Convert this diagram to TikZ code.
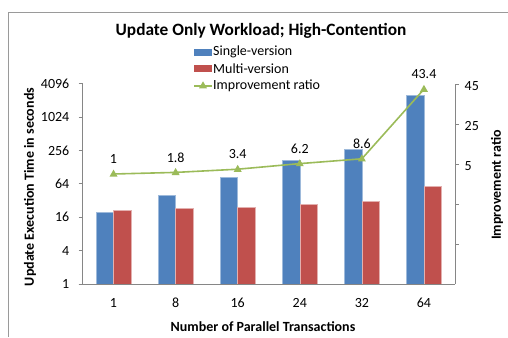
\documentclass[tikz,border=0pt]{standalone}
\usepackage{fontspec}
\setmainfont{Carlito}
\definecolor{barblue}{HTML}{4F81BD}
\definecolor{barred}{HTML}{C0504D}
\definecolor{linegreen}{HTML}{9BBB59}
\definecolor{axisgray}{HTML}{868686}
\definecolor{framegray}{HTML}{9A9A9A}
\begin{document}
\begin{tikzpicture}[x=1bp,y=-1bp,
  axisline/.style={draw=axisgray,line width=0.8bp},
  lbl/.style={inner sep=0pt,font=\fontsize{14bp}{16bp}\selectfont},
  axtitle/.style={inner sep=0pt,font=\bfseries\fontsize{14bp}{16bp}\selectfont},
  bluebar/.style={fill=barblue,draw=barblue!55!white,line width=0.5bp},
  redbar/.style={fill=barred,draw=barred!45!white,line width=0.5bp},
  ratioline/.style={draw=linegreen,line width=1.6bp},
  marker/.style={fill=linegreen}]
\useasboundingbox (0,0) rectangle (508,337);

% chart frame (top and left edges)
\draw[framegray,line width=1bp] (8.5,337) -- (8.5,12.5) -- (508,12.5);

% title
\node[inner sep=0pt,font=\bfseries\fontsize{17.3bp}{19bp}\selectfont] (title) at (261,31) {Update Only Workload; High-Contention};

% bars: log2 scale on the left axis, 1 at y=284, 4096 at y=83.5
\foreach \i/\b/\r in {1/19.6/21.3, 2/40.1/22.7, 3/82.3/24.4, 4/168/27.6, 5/270/31.3, 6/2470/56.6}{
  \pgfmathsetmacro\cx{82.5+62.08*(\i-0.5)}
  \pgfmathsetmacro\yb{284-16.71*ln(\b)/ln(2)}
  \pgfmathsetmacro\yr{284-16.71*ln(\r)/ln(2)}
  \path[bluebar] (\cx-17.5,284) rectangle (\cx,\yb);
  \path[redbar] (\cx,284) rectangle (\cx+17.5,\yr);
}

% axes
\draw[axisline] (78.5,284) -- (455,284);
\draw[axisline] (82.5,284) -- (82.5,83.5);
\draw[axisline] (455,284) -- (455,84);
\foreach \k/\v in {0/1,1/4,2/16,3/64,4/256,5/1024,6/4096}{
  \pgfmathsetmacro\ty{284-33.42*\k}
  \draw[axisline] (78.5,\ty) -- (82.5,\ty);
  \node[lbl,anchor=east] (yl\k) at (69.5,\ty) {\v};
}
\foreach \k in {1,...,5}{
  \pgfmathsetmacro\ty{284-40*\k}
  \draw[axisline] (455,\ty) -- (458.5,\ty);
}
\node[lbl,anchor=west] (r45) at (464.5,86) {45};
\node[lbl,anchor=west] (r25) at (464.5,126) {25};
\node[lbl,anchor=west] (r5) at (464.5,166) {5};

% category labels
\foreach \i/\t in {1/1,2/8,3/16,4/24,5/32,6/64}{
  \pgfmathsetmacro\cx{82.5+62.08*(\i-0.5)}
  \node[lbl] (cat\i) at (\cx,302.5) {\t};
}

% improvement ratio points
\foreach \i/\v in {1/1,2/1.8,3/3.4,4/6.2,5/8.6,6/43.4}{
  \pgfmathsetmacro\cx{82.5+62.08*(\i-0.5)}
  \pgfmathsetmacro\py{286-2*(\v+55)}
  \coordinate (p\i) at (\cx,\py);
  \node[lbl] (v\i) at (\cx,\py-15) {\v};
}
\draw[ratioline] (p1) -- (p2) -- (p3) -- (p4) -- (p5) -- (p6);
\foreach \i in {1,...,6}{
  \fill[marker] (p\i) ++(-4,2.6) -- ++(8,0) -- ++(-4,-7) -- cycle;
}

% axis titles
\node[axtitle,rotate=90] (ytitle) at (30,187) {Update Execution Time in seconds};
\node[axtitle,rotate=90] (y2title) at (497,185) {Improvement ratio};
\node[axtitle] (xtitle) at (263,327) {Number of Parallel Transactions};

% legend
\fill[barblue] (194,48.5) rectangle (212,55.7);
\node[lbl,anchor=west] (legS) at (213,52) {Single-version};
\fill[barred] (194,65) rectangle (212,72.3);
\node[lbl,anchor=west] (legM) at (213,68.7) {Multi-version};
\coordinate (lgA) at (194,85.7);
\coordinate (lgB) at (212,85.7);
\coordinate (lgC) at (203,85.7);
\draw[ratioline] (lgA) -- (lgB);
\fill[marker] (lgC) ++(-4,2.6) -- ++(8,0) -- ++(-4,-7) -- cycle;
\node[lbl,anchor=west] (legI) at (213,85.3) {Improvement ratio};
\end{tikzpicture}
\end{document}
